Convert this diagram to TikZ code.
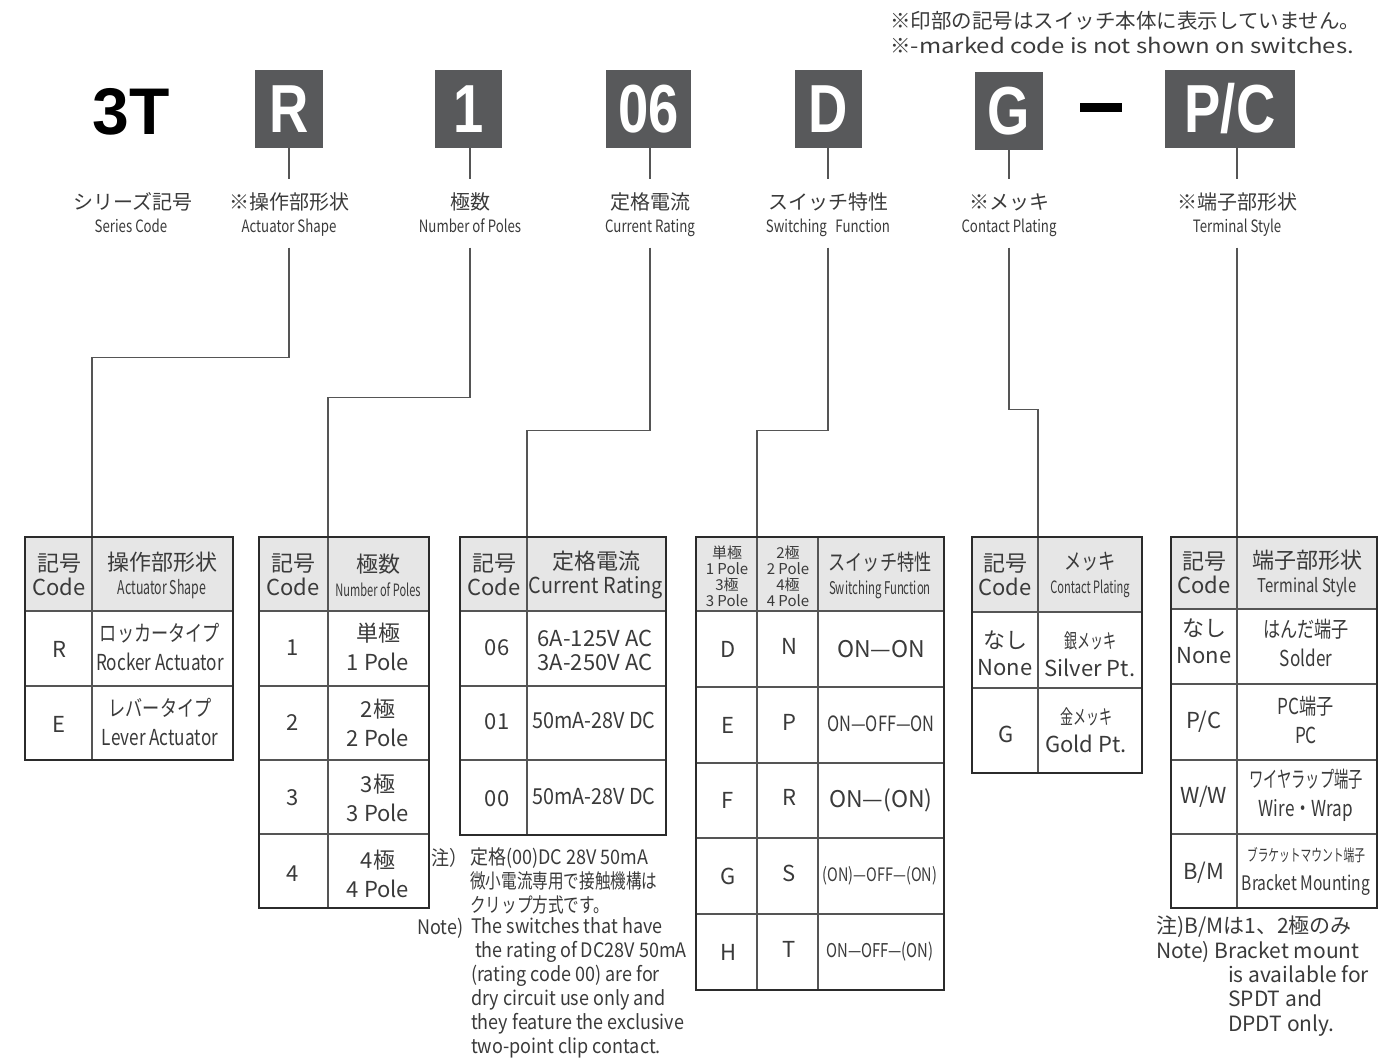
\documentclass[tikz,border=0pt]{standalone}
\usepackage{fontspec}
\setmainfont{Noto Sans CJK JP}
\newfontfamily\cnd{Noto Sans CJK JP}[FakeStretch=0.78]
\newfontfamily\xcnd{Noto Sans CJK JP}[FakeStretch=0.65]
\newfontfamily\mcnd{Noto Sans CJK JP}[FakeStretch=0.9]
\newfontfamily\wide{Noto Sans CJK JP}[FakeStretch=1.17]
\newfontfamily\codef{Liberation Sans}[FakeStretch=0.8]
\newfontfamily\serf{Liberation Sans}
\definecolor{boxgray}{HTML}{58595B}
\definecolor{txt}{HTML}{3A3A3A}
\definecolor{hdrc}{HTML}{E6E6E6}
\definecolor{frm}{HTML}{2B2B2B}
\definecolor{rulec}{HTML}{555555}

\begin{document}
\begin{tikzpicture}
  [x=1pt,y=-1pt,every node/.style={text=txt,inner sep=0pt},
   codebox/.style={fill=boxgray,text=white,minimum height=78pt,
     font=\codef\bfseries\fontsize{68}{68}\selectfont},
   jlbl/.style={font=\fontsize{20}{20}\selectfont,text height=16pt,
     text depth=3pt,inner ysep=14pt},
   elbl/.style={font=\cnd\fontsize{17}{17}\selectfont,text height=12pt,
     text depth=3pt,inner ysep=12pt},
   conn/.style={draw=rulec,line width=1.4pt},
   frame/.style={draw=frm,line width=2.6pt},
   rule/.style={draw=rulec,line width=1.3pt},
   hcell/.style={align=center,font=\fontsize{22}{24}\selectfont},
   cell/.style={align=center,font=\fontsize{22}{29}\selectfont},
   ccell/.style={align=center,font=\cnd\fontsize{22}{29}\selectfont},
   smallhdr/.style={align=center,font=\fontsize{15}{16}\selectfont},
   note/.style={align=left,font=\mcnd\fontsize{20}{24}\selectfont}]
  \useasboundingbox (0,0) rectangle (1392,1059);

  % note at the top
  \node[anchor=north west,align=left,font=\fontsize{20.5}{25}\selectfont]
    (topnote) at (890,11) {※印部の記号はスイッチ本体に表示していません。\\
    ※{\wide -marked code is not shown on switches.}};

  % code line
  \node[font=\serf\bfseries\fontsize{66}{66}\selectfont,text=black] (ser) at (131,112) {3T};
  \node[codebox,minimum width=68pt] (cR) at (289,109) {R};
  \node[codebox,minimum width=67pt] (c1) at (468.5,109) {1};
  \node[codebox,minimum width=85pt] (c06) at (648.5,109) {06};
  \node[codebox,minimum width=67pt] (cD) at (828.5,109) {D};
  \node[codebox,minimum width=68pt] (cG) at (1009,111) {G};
  \node[codebox,minimum width=130pt] (cPC) at (1230,109) {P/C};
  \fill[black] (1080,103) rectangle (1122,112);

  % labels
  \node[jlbl] (jSer) at (133,203) {シリーズ記号};
  \node[elbl] (eSer) at (131,228) {Series Code};
  \node[jlbl] (jAct) at (289,203) {※操作部形状};
  \node[elbl] (eAct) at (289,228) {Actuator Shape};
  \node[jlbl] (jPol) at (470,203) {極数};
  \node[elbl] (ePol) at (470,228) {Number of Poles};
  \node[jlbl] (jCur) at (650,203) {定格電流};
  \node[elbl] (eCur) at (650,228) {Current Rating};
  \node[jlbl] (jSw) at (828,203) {スイッチ特性};
  \node[elbl] (eSw) at (828,228) {Switching\enspace Function};
  \node[jlbl] (jPlt) at (1009,203) {※メッキ};
  \node[elbl] (ePlt) at (1009,228) {Contact Plating};
  \node[jlbl] (jTrm) at (1237,203) {※端子部形状};
  \node[elbl] (eTrm) at (1237,228) {Terminal Style};

  \foreach \c/\l in {cR/jAct,c1/jPol,c06/jCur,cD/jSw,cG/jPlt,cPC/jTrm}
    \draw[conn] (\l.north |- \c.south) -- (\l.north);

  % connectors to the tables
  \coordinate (tAct) at (92,537);
  \coordinate (tPol) at (328,537);
  \coordinate (tCur) at (527,537);
  \coordinate (tSw) at (757,537);
  \coordinate (tPlt) at (1038,537);
  \coordinate (tTrm) at (1237,537);
  \draw[conn] (eAct.south) -- ++(0,109.5) -| (tAct);
  \draw[conn] (ePol.south) -- ++(0,149.5) -| (tPol);
  \draw[conn] (eCur.south) -- ++(0,182.5) -| (tCur);
  \draw[conn] (eSw.south) -- ++(0,182.5) -| (tSw);
  \draw[conn] (ePlt.south) -- ++(0,161.5) -| (tPlt);
  \draw[conn] (eTrm) -- (tTrm);

  % actuator shape
  \fill[hdrc] (25,537) rectangle (233,611);
  \draw[rule] (25,611) -- (233,611) (25,686) -- (233,686) (92,537) -- (92,760);
  \draw[frame] (25,537) rectangle (233,760);
  \node[hcell] (h1a) at (59,575) {記号\\Code};
  \node[hcell] (h1b) at (162,575) {操作部形状\\{\xcnd\fontsize{19}{19}\selectfont Actuator Shape}};
  \node[cell] (r1a) at (59,649) {R};
  \node[ccell] (r1b) at (160,647) {ロッカータイプ\\Rocker Actuator};
  \node[cell] (r2a) at (59,724) {E};
  \node[ccell] (r2b) at (160,722) {レバータイプ\\Lever Actuator};

  % number of poles
  \fill[hdrc] (259,537) rectangle (429,611);
  \draw[rule] (259,611) -- (429,611) (259,686) -- (429,686) (259,760) -- (429,760)
    (259,834) -- (429,834) (328,537) -- (328,908);
  \draw[frame] (259,537) rectangle (429,908);
  \node[hcell] (h2a) at (293,575) {記号\\Code};
  \node[hcell] (h2b) at (378,575) {極数\\{\xcnd\fontsize{17}{17}\selectfont Number of Poles}};
  \node[cell] (r3a) at (293,648) {1};
  \node[cell] (r3b) at (378,647) {単極\\1 Pole};
  \node[cell] (r4a) at (293,723) {2};
  \node[cell] (r4b) at (378,723) {2極\\2 Pole};
  \node[cell] (r5a) at (293,798) {3};
  \node[cell] (r5b) at (378,798) {3極\\3 Pole};
  \node[cell] (r6a) at (293,874) {4};
  \node[cell] (r6b) at (378,874) {4極\\4 Pole};

  % current rating
  \fill[hdrc] (460,537) rectangle (666,611);
  \draw[rule] (460,611) -- (666,611) (460,686) -- (666,686) (460,760) -- (666,760)
    (527,537) -- (527,835);
  \draw[frame] (460,537) rectangle (666,835);
  \node[hcell] (h3a) at (494,575) {記号\\Code};
  \node[hcell] (h3b) at (596,575) {定格電流\\{\mcnd\fontsize{22}{22}\selectfont Current Rating}};
  \node[cell] (r7a) at (497,648) {06};
  \node[align=center,font=\fontsize{22}{24}\selectfont] (r7b) at (595,650) {6A-125V AC\\3A-250V AC};
  \node[cell] (r8a) at (497,722) {01};
  \node[anchor=west,font=\mcnd\fontsize{22}{24}\selectfont] (r8b) at (532,720) {50mA-28V DC};
  \node[cell] (r9a) at (497,799) {00};
  \node[anchor=west,font=\mcnd\fontsize{22}{24}\selectfont] (r9b) at (532,796) {50mA-28V DC};

  % note for 00
  \node[anchor=west,note] (n3a) at (431,858) {注）};
  \node[anchor=north west,note] (n3b) at (470,847)
    {定格(00)DC 28V 50mA\\{\cnd 微小電流専用で接触機構は}\\{\cnd クリップ方式です。}};
  \node[anchor=west,note] (n3c) at (417,928) {Note)};
  \node[anchor=north west,note] (n3d) at (471,917) {The switches that have\\
    \hspace*{4pt}the rating of DC28V 50mA\\(rating code 00) are for\\dry circuit use only and\\
    they feature the exclusive\\two-point clip contact.};

  % switching function
  \fill[hdrc] (696,537) rectangle (944,611);
  \draw[rule] (696,611) -- (944,611) (696,687) -- (944,687) (696,763) -- (944,763)
    (696,838) -- (944,838) (696,914) -- (944,914) (757,537) -- (757,990)
    (818,537) -- (818,990);
  \draw[frame] (696,537) rectangle (944,990);
  \node[smallhdr] (h4a) at (727,576) {単極\\1 Pole\\3極\\3 Pole};
  \node[smallhdr] (h4b) at (788,576) {2極\\2 Pole\\4極\\4 Pole};
  \node[hcell,font=\cnd\fontsize{22}{24}\selectfont] (h4c) at (880,575)
    {スイッチ特性\\{\xcnd\fontsize{17.5}{17.5}\selectfont Switching Function}};
  \foreach \a/\b/\yy [count=\i] in {D/N/649,E/P/725,F/R/800,G/S/876,H/T/952} {
    \node[cell] (s\i a) at (728,\yy) {\a};
    \node[cell] (s\i b) at (789,\yy-3) {\b};
  }
  \node[cell,font=\fontsize{23}{29}\selectfont] (s1c) at (881,649) {ON—ON};
  \node[ccell,font=\cnd\fontsize{21}{29}\selectfont] (s2c) at (881,724) {ON—OFF—ON};
  \node[cell,font=\fontsize{23}{29}\selectfont] (s3c) at (881,800) {ON—(ON)};
  \node[ccell,font=\cnd\fontsize{18.5}{29}\selectfont] (s4c) at (880,876) {(ON)—OFF—(ON)};
  \node[ccell,font=\cnd\fontsize{19}{29}\selectfont] (s5c) at (880,952) {ON—OFF—(ON)};

  % contact plating
  \fill[hdrc] (972,537) rectangle (1142,612);
  \draw[rule] (972,612) -- (1142,612) (972,688) -- (1142,688) (1038,537) -- (1038,773);
  \draw[frame] (972,537) rectangle (1142,773);
  \node[hcell] (h5a) at (1005,575) {記号\\Code};
  \node[hcell,font=\cnd\fontsize{22}{24}\selectfont] (h5b) at (1090,575)
    {メッキ\\{\xcnd\fontsize{17}{17}\selectfont Contact Plating}};
  \node[cell,font=\fontsize{22}{27}\selectfont] (p1a) at (1005,653) {なし\\None};
  \node[cell,font=\fontsize{22}{28}\selectfont] (p1b) at (1090,654) {{\xcnd\fontsize{20}{20}\selectfont 銀メッキ}\\Silver Pt.};
  \node[cell] (p2a) at (1006,734) {G};
  \node[cell,font=\fontsize{22}{28}\selectfont] (p2b) at (1086,730) {{\xcnd\fontsize{20}{20}\selectfont 金メッキ}\\Gold Pt.};

  % terminal style
  \fill[hdrc] (1171,537) rectangle (1377,609);
  \draw[rule] (1171,609) -- (1377,609) (1171,684) -- (1377,684) (1171,760) -- (1377,760)
    (1171,834) -- (1377,834) (1237,537) -- (1237,908);
  \draw[frame] (1171,537) rectangle (1377,908);
  \node[hcell] (h6a) at (1204,573) {記号\\Code};
  \node[hcell] (h6b) at (1307,573) {端子部形状\\{\cnd\fontsize{19}{19}\selectfont Terminal Style}};
  \node[cell,font=\fontsize{22}{27}\selectfont] (q1a) at (1204,641) {なし\\None};
  \node[ccell] (q1b) at (1306,643) {はんだ端子\\Solder};
  \node[cell] (q2a) at (1204,722) {P/C};
  \node[ccell] (q2b) at (1306,720) {PC端子\\PC};
  \node[cell] (q3a) at (1204,797) {W/W};
  \node[ccell] (q3b) at (1306,795) {{\xcnd ワイヤラップ端子}\\Wire・Wrap};
  \node[ccell,font=\cnd\fontsize{20}{29}\selectfont] (q4b) at (1306,871)
    {{\xcnd\fontsize{16.5}{16.5}\selectfont ブラケットマウント端子}\\Bracket Mounting};
  \node[cell] (q4a) at (1204,873) {B/M};

  % note for B/M
  \node[anchor=north west,align=left,font=\fontsize{21}{24.5}\selectfont]
    (n6a) at (1156,916) {注)B/Mは1、2極のみ\\Note) Bracket mount};
  \node[anchor=north west,align=left,font=\fontsize{21}{24.5}\selectfont]
    (n6b) at (1228,965) {is available for\\SPDT and\\DPDT only.};
\end{tikzpicture}
\end{document}
